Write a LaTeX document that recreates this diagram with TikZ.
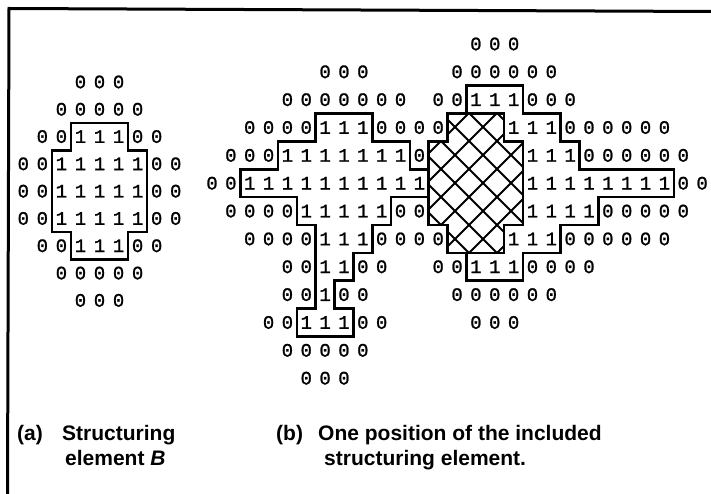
\documentclass[tikz,border=0pt]{standalone}
\usepackage{fontspec}
\newfontfamily\capfont{Liberation Sans}
\newfontfamily\digfont{Liberation Mono}[FakeBold=1.2]
\begin{document}
\begin{tikzpicture}[x=1pt,y=-1pt,
  dig/.style={inner sep=0pt, font=\digfont\fontsize{19}{19}\selectfont},
  outl/.style={line width=2.6pt, line join=miter},
  hatchln/.style={line width=1.9pt},
  frameln/.style={line width=3pt, line join=miter},
  captext/.style={anchor=base west, inner sep=0pt, font=\capfont\bfseries\fontsize{21}{25}\selectfont}]
\fill[white] (0,0) rectangle (711,494);
\useasboundingbox (0,0) rectangle (711,494);
% frame
\draw[frameln] (7.5,494) -- (9,8.5) -- (711,11.5);

% (a) structuring element
\begin{scope}[shift={(23.3,82)}, x=19.05pt, y=-27.3pt]
  \draw[outl] (2.5,1.5) -- (5.5,1.5) -- (5.5,2.5) -- (6.5,2.5) -- (6.5,5.5) -- (5.5,5.5) -- (5.5,6.5) -- (2.5,6.5) -- (2.5,5.5) -- (1.5,5.5) -- (1.5,2.5) -- (2.5,2.5) -- cycle;
  \foreach \r/\s/\l in {0/3/{0,0,0}, 1/2/{0,0,0,0,0}, 2/1/{0,0,1,1,1,0,0},
      3/0/{0,0,1,1,1,1,1,0,0}, 4/0/{0,0,1,1,1,1,1,0,0}, 5/0/{0,0,1,1,1,1,1,0,0},
      6/1/{0,0,1,1,1,0,0}, 7/2/{0,0,0,0,0}, 8/3/{0,0,0}} {
    \foreach \ch [count=\i from 0] in \l {
      \pgfmathtruncatemacro\k{\s+\i}
      \node[dig] (a-\r-\k) at (\k,\r) {\ch};
    }
  }
\end{scope}

% (b) image with included structuring element
\begin{scope}[shift={(212,44)}, x=18.85pt, y=-27.85pt]
  \begin{scope}
    \clip (12.5,2.5) -- (15.5,2.5) -- (15.5,3.5) -- (16.5,3.5) -- (16.5,6.5) -- (15.5,6.5) -- (15.5,7.5) -- (12.5,7.5) -- (12.5,6.5) -- (11.5,6.5) -- (11.5,3.5) -- (12.5,3.5) -- cycle;
    \begin{scope}[shift={(14,5)}, x=1pt, y=-1pt]
      \foreach \n in {-8,...,8} {
        \draw[hatchln] ({\n*28+7.35-160},-160) -- ({\n*28+7.35+160},160);
        \draw[hatchln] ({\n*28+6.85-160},160) -- ({\n*28+6.85+160},-160);
      }
    \end{scope}
  \end{scope}
  \draw[outl] (12.5,2.5) -- (15.5,2.5) -- (15.5,3.5) -- (16.5,3.5) -- (16.5,6.5) -- (15.5,6.5) -- (15.5,7.5) -- (12.5,7.5) -- (12.5,6.5) -- (11.5,6.5) -- (11.5,3.5) -- (12.5,3.5) -- cycle;
  \draw[outl] (13.5,1.5) -- (16.5,1.5) -- (16.5,2.5) -- (18.5,2.5) -- (18.5,3.5) -- (19.5,3.5) -- (19.5,4.5) -- (24.5,4.5) -- (24.5,5.5) -- (20.5,5.5) -- (20.5,6.5) -- (18.5,6.5) -- (18.5,7.5) -- (16.5,7.5) -- (16.5,8.5) -- (13.5,8.5) -- (13.5,7.5) -- (12.5,7.5) -- (12.5,6.5) -- (11.5,6.5) -- (11.5,5.5) -- (9.5,5.5) -- (9.5,6.5) -- (8.5,6.5) -- (8.5,7.5) -- (7.5,7.5) -- (7.5,8.5) -- (6.5,8.5) -- (6.5,9.5) -- (7.5,9.5) -- (7.5,10.5) -- (4.5,10.5) -- (4.5,9.5) -- (5.5,9.5) -- (5.5,6.5) -- (4.5,6.5) -- (4.5,5.5) -- (1.5,5.5) -- (1.5,4.5) -- (3.5,4.5) -- (3.5,3.5) -- (5.5,3.5) -- (5.5,2.5) -- (8.5,2.5) -- (8.5,3.5) -- (10.5,3.5) -- (10.5,4.5) -- (11.5,4.5) -- (11.5,3.5) -- (12.5,3.5) -- (12.5,2.5) -- (13.5,2.5) -- cycle;
  \foreach \r/\s/\l in {0/14/{0,0,0}, 1/6/{0,0,0}, 1/13/{0,0,0,0,0,0},
      2/4/{0,0,0,0,0,0,0}, 2/12/{0,0,1,1,1,0,0,0},
      3/2/{0,0,0,0,1,1,1,0,0,0,0}, 3/16/{1,1,1,0,0,0,0,0,0},
      4/1/{0,0,0,1,1,1,1,1,1,1,0}, 4/17/{1,1,1,0,0,0,0,0,0},
      5/0/{0,0,1,1,1,1,1,1,1,1,1,1}, 5/17/{1,1,1,1,1,1,1,1,0,0},
      6/1/{0,0,0,0,1,1,1,1,1,0,0}, 6/17/{1,1,1,1,0,0,0,0,0},
      7/2/{0,0,0,0,1,1,1,0,0,0,0}, 7/16/{1,1,1,0,0,0,0,0,0},
      8/4/{0,0,1,1,0,0}, 8/12/{0,0,1,1,1,0,0,0,0},
      9/4/{0,0,1,0,0}, 9/13/{0,0,0,0,0,0},
      10/3/{0,0,1,1,1,0,0}, 10/14/{0,0,0},
      11/4/{0,0,0,0,0}, 12/5/{0,0,0}} {
    \foreach \ch [count=\i from 0] in \l {
      \pgfmathtruncatemacro\k{\s+\i}
      \node[dig] (b-\r-\k) at (\k,\r) {\ch};
    }
  }
\end{scope}

% captions
\node[captext] (capa) at (17,440) {(a)};
\node[captext] (capa1) at (62,440) {Structuring};
\node[captext] (capa2) at (65,465) {element \textit{B}};
\node[captext] (capb) at (276,440) {(b)};
\node[captext] (capb1) at (318,440) {One position of the included};
\node[captext] (capb2) at (324,465) {structuring element.};
\end{tikzpicture}
\end{document}
